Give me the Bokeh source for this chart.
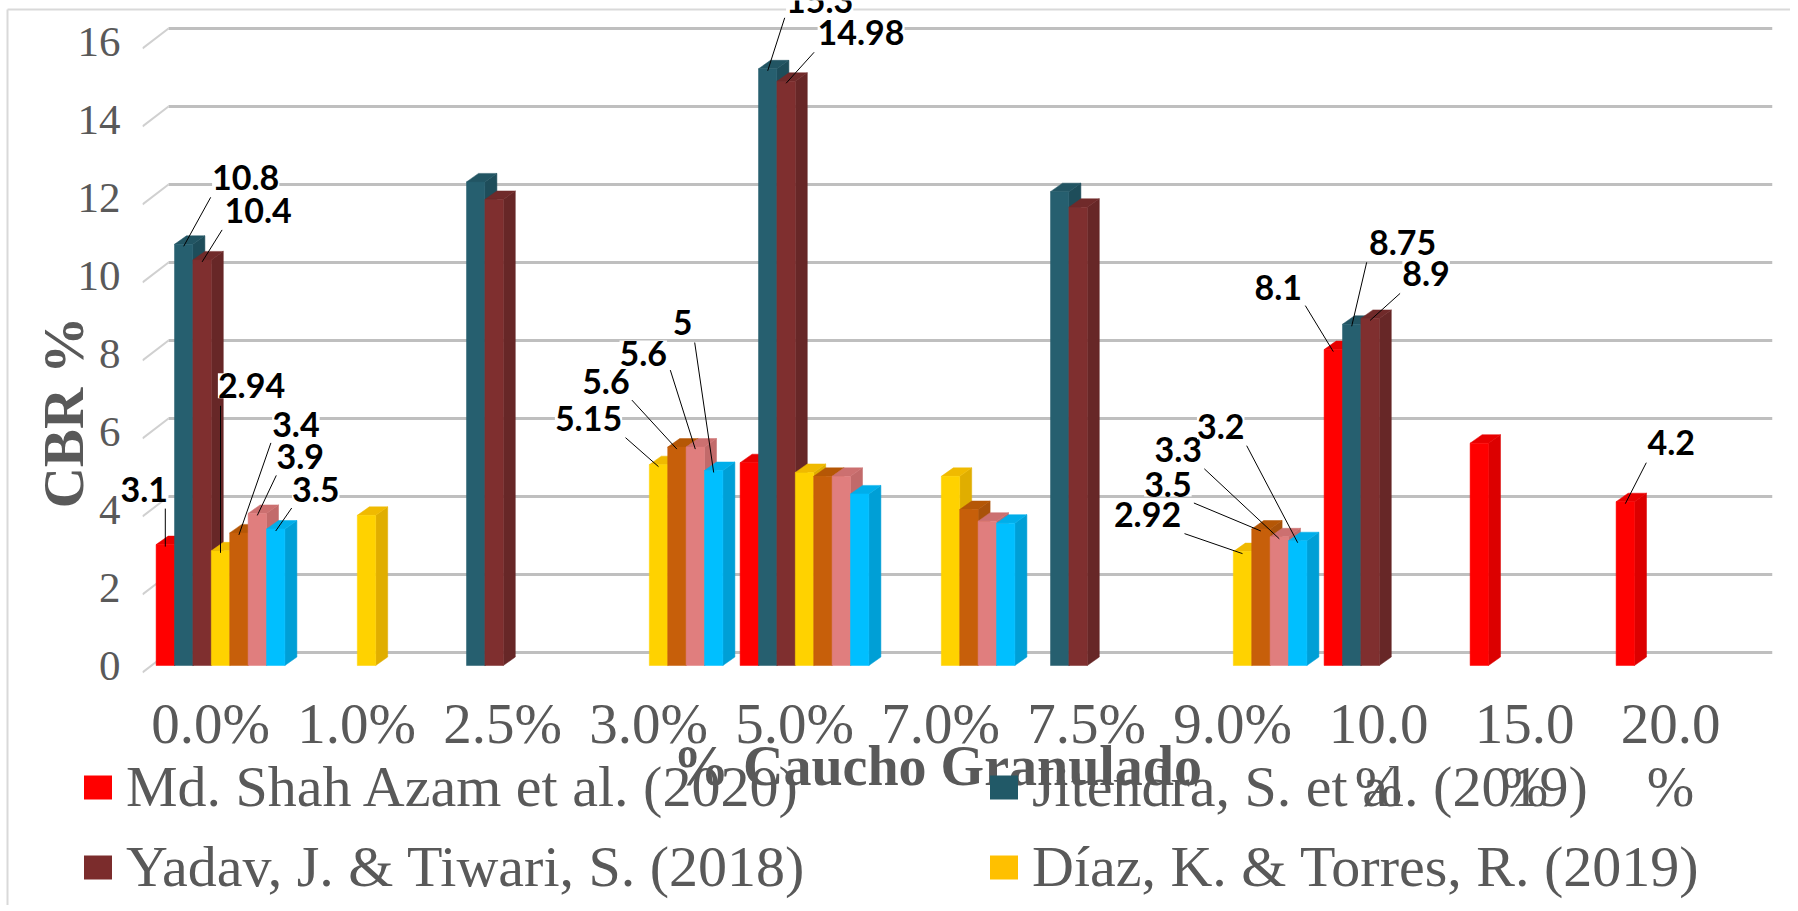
import math
import numpy as np
from bokeh.plotting import figure
from bokeh.models import (FixedTicker, ColumnDataSource, LabelSet, Label,
                          Legend, LegendItem, Range1d, GridBox)
from bokeh.embed import file_html
from bokeh.resources import INLINE
from bokeh.core.properties import value

nan = float("nan")

# ---------------- data ----------------
categories = ["0.0%", "1.0%", "2.5%", "3.0%", "5.0%", "7.0%", "7.5%",
              "9.0%", "10.0 %", "15.0 %", "20.0 %"]
tick_labels = ["0.0%", "1.0%", "2.5%", "3.0%", "5.0%", "7.0%", "7.5%",
               "9.0%", "10.0\n%", "15.0\n%", "20.0\n%"]
y_ticks = [0, 2, 4, 6, 8, 10, 12, 14, 16]

series_names = ["Md. Shah Azam et al. (2020)", "Jitendra, S. et al. (2019)",
                "Yadav, J. & Tiwari, S. (2018)", "Díaz, K. & Torres, R. (2019)",
                "Serie 5", "Serie 6", "Serie 7"]
azam     = [3.1,  nan,  nan,   nan,  5.2,   nan,  nan,   nan,  8.1,  5.7, 4.2]
jitendra = [10.8, nan,  12.4,  nan,  15.3,  nan,  12.15, nan,  8.75, nan, nan]
yadav    = [10.4, nan,  11.95, nan,  14.98, nan,  11.75, nan,  8.9,  nan, nan]
diaz     = [2.94, 3.85, nan,   5.15, 4.95,  4.85, nan,   2.92, nan,  nan, nan]
serie5   = [3.4,  nan,  nan,   5.6,  4.85,  4.0,  nan,   3.5,  nan,  nan, nan]
serie6   = [3.9,  nan,  nan,   5.6,  4.85,  3.7,  nan,   3.3,  nan,  nan, nan]
serie7   = [3.5,  nan,  nan,   5.0,  4.4,   3.65, nan,   3.2,  nan,  nan, nan]
series_values = [azam, jitendra, yadav, diaz, serie5, serie6, serie7]
x_title = "% Caucho Granulado"
y_title = "CBR %"

# ---------------- styles ----------------
front_colors = ["#FF0000", "#265F6F", "#7F2F2F", "#FFD200", "#C75F0A", "#E07E7E", "#00BFFF"]
side_colors  = ["#DC0000", "#1E4D5A", "#672727", "#E0AE00", "#A9520A", "#C26A6A", "#009FD6"]
top_colors   = ["#E80000", "#225563", "#702A2A", "#F0BA00", "#B55706", "#CC7070", "#00AEEA"]
legend_colors = ["#FF0000", "#215967", "#7B2C2C", "#FFC000"]
TXT = "#595959"

# page-pixel <-> data mapping (layout)
PX0, PXU = 210.0, 146.0      # page x of data x=0, px per category
PY0, PYU = 665.0, 39.0       # page y of data y=0, px per CBR unit
def X(px): return (px - PX0) / PXU
def Y(py): return (PY0 - py) / PYU
def dX(d): return d / PXU
def dY(d): return -d / PYU
def PX(x): return PX0 + x * PXU
def PY(y): return PY0 - y * PYU

bw = dX(18.4)          # bar width
shift = dX(10)         # cluster offset relative to tick (3D perspective)
ddx, ddy = dX(12), dY(-8.5)   # bar depth

# label layout: (series, category) -> (label dx, dy, leader start dx, dy) in px
label_layout = {
    (0, 0): (-21, -55, 0, -36),
    (1, 0): (62, -67, 27, -47),
    (2, 0): (56, -49, 20, -30),
    (3, 0): (31, -165, 0, -145),
    (4, 0): (57, -108, 32, -90),
    (5, 0): (43, -57, 19, -38),
    (6, 0): (40, -40, 16, -21),
    (3, 3): (-70, -46, -33, -27),
    (4, 3): (-71, -66, -45, -47),
    (5, 3): (-52, -94, -25, -77),
    (6, 3): (-31, -148, -19, -128),
    (1, 4): (52, -68, 17, -51),
    (2, 4): (75, -49, 28, -29),
    (3, 7): (-95, -37, -58, -18),
    (4, 7): (-93, -45, -67, -26),
    (5, 7): (-101, -87, -75, -68),
    (6, 7): (-77, -114, -51, -95),
    (0, 8): (-55, -62, -28, -44),
    (1, 8): (51, -82, 15, -62),
    (2, 8): (56, -45, 30, -25),
    (0, 10): (46, -59, 21, -39),
}

W, H = 1790, 905
FL, FR, FT, FB = 142, 1772, 8, 680      # frame edges (page px)
p = figure(width=W, height=H, output_backend="svg", toolbar_location=None,
           x_range=Range1d(X(FL), X(FR)), y_range=Range1d(Y(FB), Y(FT)),
           min_border_left=FL, min_border_right=W - FR, min_border_top=FT,
           min_border_bottom=H - FB)
p.frame_align = False
p.outline_line_color = None
p.xgrid.grid_line_color = None
p.ygrid.grid_line_color = None
p.background_fill_color = "white"
p.border_fill_color = "white"

# ---------------- gridlines (3D back wall) ----------------
gx_left, gx_back, gx_right = X(142), X(168), X(1772)
g_front, g_back = dY(7), dY(-13)
p.multi_line(xs=[[gx_back, gx_right] for t in y_ticks],
             ys=[[t + g_back, t + g_back] for t in y_ticks],
             line_color="#BFBFBF", line_width=3)
p.segment(x0=[gx_left] * len(y_ticks), y0=[t + g_front for t in y_ticks],
          x1=[gx_back] * len(y_ticks), y1=[t + g_back for t in y_ticks],
          line_color="#D0D0D0", line_width=2)

# ---------------- 3D bars ----------------
anchors = {}
for s, vals in enumerate(series_values):
    cats = [c for c, v in enumerate(vals) if not math.isnan(v)]
    v = np.array([vals[c] for c in cats])
    xc = np.array(cats, dtype=float) + shift + (s - 3) * bw
    xl, xr = xc - bw / 2, xc + bw / 2
    p.patches(xs=[[a, a + ddx, a + ddx, a] for a in xr],
              ys=[[0, ddy, h + ddy, h] for h in v],
              fill_color=side_colors[s], line_color=side_colors[s], line_width=0.5)
    p.patches(xs=[[a, a + ddx, b + ddx, b] for a, b in zip(xl, xr)],
              ys=[[h, h + ddy, h + ddy, h] for h in v],
              fill_color=top_colors[s], line_color=top_colors[s], line_width=0.5)
    p.vbar(x=xc, top=v, bottom=0, width=bw, fill_color=front_colors[s],
           line_color=front_colors[s], line_width=0.5)
    for c, x_, h in zip(cats, xc, v):
        anchors[(s, c)] = (x_, h)

# ---------------- leader lines ----------------
lx, ly, txt, sx0, sy0, sx1, sy1 = [], [], [], [], [], [], []
for (s, c), (ldx, ldy, sdx, sdy) in label_layout.items():
    ax, ay = anchors[(s, c)]
    lx.append(PX(ax) + ldx); ly.append(PY(ay) + ldy)
    txt.append(f"{series_values[s][c]:g}")
    sx0.append(ax + dX(sdx)); sy0.append(ay + dY(sdy))
    sx1.append(ax); sy1.append(ay + dY(2))
p.segment(x0=sx0, y0=sy0, x1=sx1, y1=sy1, line_color="black", line_width=1)

# ---------------- axes ----------------
p.yaxis.ticker = FixedTicker(ticks=y_ticks)
p.yaxis.axis_line_color = None
p.yaxis.major_tick_line_color = None
p.yaxis.minor_tick_line_color = None
p.yaxis.major_label_standoff = 16
p.yaxis.major_label_text_font = "Liberation Serif"
p.yaxis.major_label_text_font_size = "43px"
p.yaxis.major_label_text_color = TXT

p.xaxis.ticker = FixedTicker(ticks=list(range(len(categories))))
p.xaxis.major_label_overrides = {i: t for i, t in enumerate(tick_labels)}
p.xaxis.axis_line_color = None
p.xaxis.major_tick_line_color = None
p.xaxis.minor_tick_line_color = None
p.xaxis.major_label_standoff = 5
p.xaxis.major_label_text_font = "Liberation Serif"
p.xaxis.major_label_text_font_size = "57px"
p.xaxis.major_label_text_line_height = 1.0
p.xaxis.major_label_text_color = TXT

# ---------------- overlay figure (page coordinates) for texts outside the frame ----------------
q = figure(width=W, height=H, output_backend="svg", toolbar_location=None,
           x_range=Range1d(0, W), y_range=Range1d(H, 0),
           x_axis_location=None, y_axis_location=None,
           min_border_left=0, min_border_right=0, min_border_top=0, min_border_bottom=0)
q.frame_align = False
q.outline_line_color = None
q.xgrid.grid_line_color = None
q.ygrid.grid_line_color = None
q.background_fill_alpha = 0
q.border_fill_alpha = 0

# light chart border (top and left)
q.multi_line(xs=[[7, W], [7, 7]], ys=[[9, 9], [9, H]], line_color="#D9D9D9", line_width=2)

# data labels
lab_src = ColumnDataSource(dict(x=lx, y=ly, text=txt))
q.add_layout(LabelSet(x="x", y="y", text="text", source=lab_src,
                      text_font=value("Lato"), text_font_style="bold",
                      text_font_size="34px", text_color="black",
                      text_align="center", text_baseline="middle",
                      background_fill_color="white"))

q.add_layout(Label(x=63, y=412, text=y_title, angle=math.pi / 2,
                   text_font="Liberation Serif", text_font_style="bold",
                   text_font_size="57px", text_color=TXT,
                   text_align="center", text_baseline="middle"))
q.add_layout(Label(x=937, y=765, text=x_title,
                   text_font="Liberation Serif", text_font_style="bold",
                   text_font_size="56px", text_color=TXT,
                   text_align="center", text_baseline="middle"))

# legend
leg_r = [q.quad(left=[nan], right=[nan], top=[nan], bottom=[nan],
                fill_color=legend_colors[i], line_color=None) for i in range(4)]
def make_legend(idx, left_px):
    return Legend(items=[LegendItem(label=series_names[i], renderers=[leg_r[i]]) for i in idx],
                  location=(left_px, H - 900), orientation="vertical",
                  glyph_width=35, glyph_height=30, label_standoff=11,
                  label_text_font="Liberation Serif", label_text_font_size="58px",
                  label_text_color=TXT, label_height=60, spacing=13,
                  padding=0, margin=0, border_line_color=None,
                  background_fill_alpha=0)
q.add_layout(make_legend([0, 2], 80))
q.add_layout(make_legend([1, 3], 986))

layout = GridBox(children=[(p, 0, 0), (q, 0, 0)])
open("out.html", "w").write(file_html(layout, INLINE))
